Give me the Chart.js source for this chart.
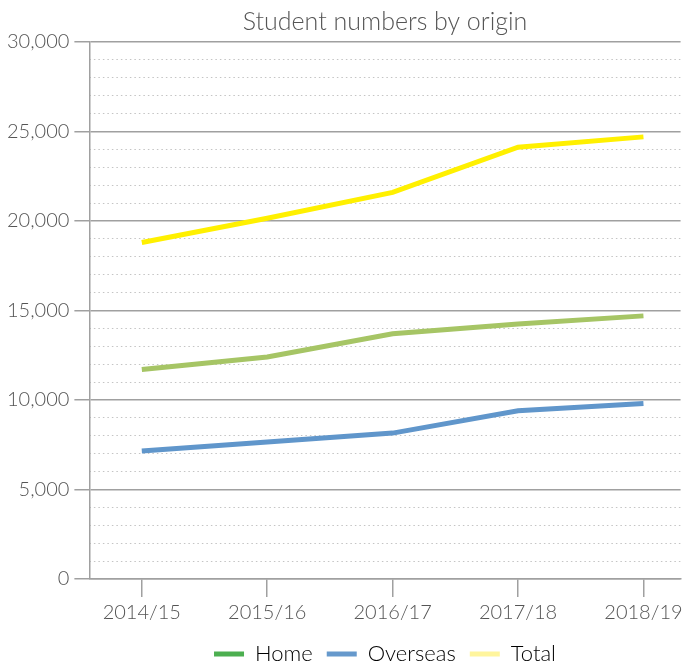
<!DOCTYPE html>
<html>
<head>
<meta charset="utf-8">
<title>Student numbers by origin</title>
<script src="https://cdn.jsdelivr.net/npm/chart.js@4.4.1/dist/chart.umd.min.js"></script>
<style>
    html, body { margin: 0; padding: 0; background: #fff; }
    #wrap { width: 687px; height: 666px; position: relative; }
</style>
</head>
<body>
<div id="wrap"><canvas id="chart"></canvas></div>
<script>
const YEARS = ['2014/15', '2015/16', '2016/17', '2017/18', '2018/19'];
const HOME = [11700, 12400, 13700, 14250, 14700];
const OVERSEAS = [7150, 7650, 8150, 9400, 9800];
const TOTAL = [18800, 20150, 21600, 24120, 24700];

const LINE_COLORS = ['#a6c565', '#6096cb', '#fff000'];
const LEGEND_COLORS = ['#4caf50', '#6699cc', '#fff59d'];
const AXIS_GREY = '#a0a0a0';
const TEXT = '#555';
const FONT = 'Lato, "Open Sans", sans-serif';

Chart.defaults.font.family = FONT;
Chart.defaults.font.weight = '300';
Chart.defaults.color = TEXT;

const toPoints = arr => arr.map((v, i) => ({ x: i, y: v }));

const datasets = [
    { label: 'Home', data: toPoints(HOME) },
    { label: 'Overseas', data: toPoints(OVERSEAS) },
    { label: 'Total', data: toPoints(TOTAL) }
].map((ds, i) => ({
    ...ds,
    borderColor: LINE_COLORS[i],
    backgroundColor: LINE_COLORS[i],
    borderWidth: 5,
    tension: 0,
    pointRadius: 0,
    pointHoverRadius: 0,
    fill: false
}));

new Chart(document.getElementById('chart'), {
    type: 'line',
    data: { datasets },
    options: {
        responsive: true,
        maintainAspectRatio: false,
        animation: false,
        layout: { padding: { left: 2, right: 0, top: 0, bottom: -9 } },
        plugins: {
            tooltip: { enabled: false },
            title: {
                display: true,
                fullSize: false,
                text: 'Student numbers by origin',
                color: TEXT,
                font: { size: 25, weight: '300' },
                padding: { top: 7, bottom: 5 }
            },
            legend: {
                position: 'bottom',
                fullSize: false,
                labels: {
                    color: '#666',
                    font: { size: 22, weight: '300' },
                    boxWidth: 30,
                    boxHeight: 5,
                    padding: 14,
                    generateLabels: chart => chart.data.datasets.map((ds, i) => ({
                        text: ds.label,
                        fillStyle: LEGEND_COLORS[i],
                        strokeStyle: LEGEND_COLORS[i],
                        lineWidth: 0,
                        hidden: false,
                        datasetIndex: i
                    }))
                }
            }
        },
        scales: {
            x: {
                type: 'linear',
                min: -0.418,
                max: 4.296,
                afterBuildTicks: scale => { scale.ticks = YEARS.map((_, i) => ({ value: i })); },
                ticks: {
                    callback: v => YEARS[v],
                    font: { size: 20, weight: '300' },
                    color: TEXT,
                    padding: 4,
                    maxRotation: 0,
                    autoSkip: false
                },
                grid: {
                    drawOnChartArea: false,
                    drawTicks: true,
                    tickLength: 18,
                    color: AXIS_GREY,
                    lineWidth: 1.5
                },
                border: { color: AXIS_GREY, width: 1.5 }
            },
            y: {
                min: 0,
                max: 30000,
                ticks: {
                    stepSize: 5000,
                    font: { size: 20, weight: '300' },
                    color: TEXT,
                    padding: 5
                },
                grid: {
                    color: AXIS_GREY,
                    lineWidth: 1.5,
                    tickLength: 15
                },
                border: { color: AXIS_GREY, width: 1.5 }
            },
            yMinor: {
                position: 'right',
                min: 0,
                max: 30000,
                ticks: { stepSize: 1000, display: false },
                grid: {
                    drawTicks: false,
                    lineWidth: 1,
                    color: ctx => ctx.tick.value % 5000 === 0 ? 'rgba(0,0,0,0)' : '#c4c4c4'
                },
                border: { display: false, dash: [1.5, 3] }
            }
        }
    }
});
</script>
</body>
</html>
